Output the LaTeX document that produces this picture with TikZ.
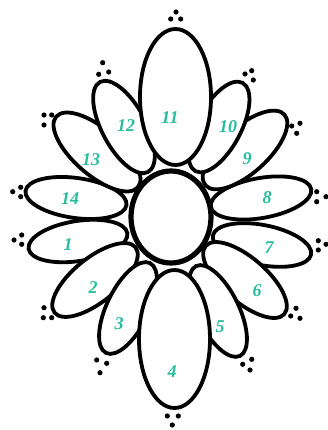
\documentclass[tikz,border=0pt]{standalone}
\usepackage{fontspec}
\newfontfamily\numfont{Liberation Serif}
\definecolor{numteal}{RGB}{38,190,158}
\tikzset{
  petal/.style={draw=black, fill=white, line width=3.8pt},
  heart/.style={draw=black, fill=white, line width=5.2pt},
  num/.style={text=numteal, font=\numfont\fontsize{18}{18}\selectfont\bfseries\itshape, inner sep=0pt},
  dotmark/.style={fill=black},
}
\newcommand{\mypetal}[5]{% cx, cy, angle, a, b
  \path[petal, rotate around={#3:(#1,#2)}] (#1,#2) ellipse [x radius=#4pt, y radius=#5pt];}
\begin{document}
\begin{tikzpicture}[x=1pt,y=-1pt]
\useasboundingbox (0,0) rectangle (328,430);
% outer layer
\mypetal{76}{198}{172}{51}{20}
\mypetal{78}{241}{189}{50}{20}
\mypetal{261}{198}{10}{51}{20}
\mypetal{262}{245}{-11}{50}{20}
% second layer
\mypetal{97}{152}{139}{54}{23}
\mypetal{95}{280}{219}{52}{22}
\mypetal{245}{150}{42}{53}{23}
\mypetal{245}{280}{-41}{52}{22}
% third layer
\mypetal{124}{127}{118}{51}{22}
\mypetal{128}{308}{244}{50}{21}
\mypetal{219}{127}{62}{50}{22}
\mypetal{218}{311}{-64}{50}{21}
% big petals
\mypetal{175.5}{97}{90}{68}{35.5}
\mypetal{174.5}{339}{-90}{69}{35.5}
% centre
\path[heart] (171,217) ellipse [x radius=40pt, y radius=46pt];
% numbers
\node[num] (n11) at (170,118) {11};
\node[num] (n12) at (126,126) {12};
\node[num] (n10) at (228,127) {10};
\node[num] (n13) at (91,160) {13};
\node[num] (n9) at (247,159) {9};
\node[num] (n14) at (70,199) {14};
\node[num] (n8) at (267,198) {8};
\node[num] (n1) at (68,245) {1};
\node[num] (n7) at (269,248) {7};
\node[num] (n2) at (93,288) {2};
\node[num] (n6) at (257,291) {6};
\node[num] (n3) at (119,324) {3};
\node[num] (n5) at (220,327) {5};
\node[num] (n4) at (172,372) {4};
% dots
\foreach \p in {(176,12),(170.7,19),(180.7,19),
  (167.3,416),(178.3,416),(172.3,425),
  (102.7,62.7),(98.7,74.3),(108.7,72),
  (44,115),(51.7,115),(44,125),
  (12.7,191.7),(20.7,187.3),(20.7,196.7),
  (245,74),(251.7,70.7),(253.3,80),
  (291.7,126),(300,123.3),(296.7,133.3),
  (316.7,191.7),(316.7,201.7),(326,196.7),
  (14,240),(21.7,235),(21.7,244.3),
  (44,307.7),(43.3,317.7),(51.7,317.7),
  (96.7,360),(106.7,363.3),(100,372.7),
  (318.3,240.7),(318.3,250),(326,244.3),
  (296,308.3),(290.7,316),(300,318.3),
  (251.7,359.3),(242.7,364.3),(250,370)}
  \fill[dotmark] \p circle[radius=2.6pt];
\end{tikzpicture}
\end{document}
